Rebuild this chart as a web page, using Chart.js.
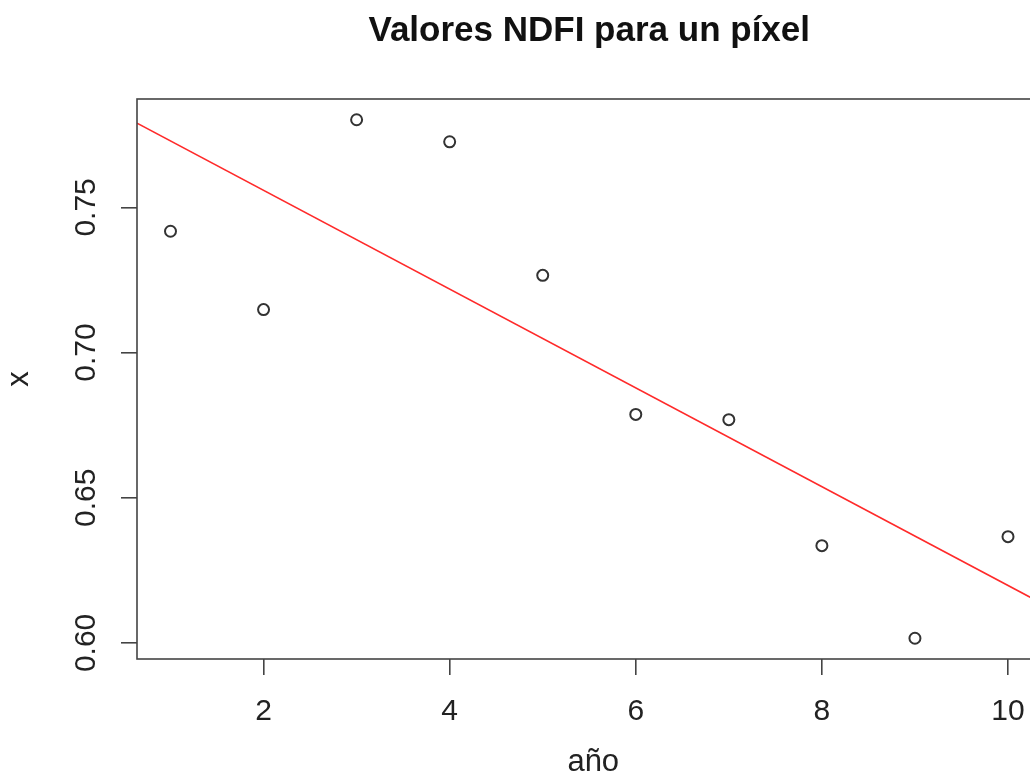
<!DOCTYPE html>
<html>
<head>
<meta charset="utf-8">
<script src="https://cdn.jsdelivr.net/npm/chart.js@4/dist/chart.umd.min.js"></script>
<style>
    html, body { margin: 0; padding: 0; background: #fff; overflow: hidden; }
    #wrap { width: 1049px; height: 775px; }
</style>
</head>
<body>
<div id="wrap"><canvas id="ndfiChart" width="1049" height="775"></canvas></div>
<script>
// valores
const years = [1, 2, 3, 4, 5, 6, 7, 8, 9, 10];
const ndfi = [0.7418, 0.7148, 0.7802, 0.7726, 0.7266, 0.6787, 0.6769, 0.6335, 0.6016, 0.6366];
const xTicks = [2, 4, 6, 8, 10];
const yTicks = [0.60, 0.65, 0.70, 0.75];
const titleText = 'Valores NDFI para un píxel';
const xLabel = 'año';
const yLabel = 'x';

// R extends the range by 4% on each side
function padRange(arr) {
    const lo = Math.min(...arr), hi = Math.max(...arr);
    const d = (hi - lo) * 0.04;
    return [lo - d, hi + d];
}
const [xMin, xMax] = padRange(years);
const [yMin, yMax] = padRange(ndfi);

// recta de regresion lm(ndfi ~ years)
function fitLine(xs, ys) {
    const mx = xs.reduce((a, b) => a + b, 0) / xs.length;
    const my = ys.reduce((a, b) => a + b, 0) / ys.length;
    let sxy = 0, sxx = 0;
    xs.forEach((x, i) => { sxy += (x - mx) * (ys[i] - my); sxx += (x - mx) * (x - mx); });
    const b = sxy / sxx;
    return { a: my - b * mx, b: b };
}
const fit = fitLine(years, ndfi);
const lineData = [xMin, xMax].map(x => ({ x: x, y: fit.a + fit.b * x }));

const FONT = '"Liberation Sans", Arial, sans-serif';
const INK = '#333';

const rDecorations = {
    id: 'rDecorations',
    afterDraw(chart) {
        const { ctx, chartArea, scales } = chart;
        ctx.save();
        // plot box
        ctx.strokeStyle = '#444';
        ctx.lineWidth = 1.6;
        ctx.strokeRect(chartArea.left, chartArea.top, chartArea.right - chartArea.left, chartArea.bottom - chartArea.top);

        const cx = (chartArea.left + chartArea.right) / 2;
        const cy = (chartArea.top + chartArea.bottom) / 2;

        // title
        ctx.fillStyle = '#111';
        ctx.textAlign = 'center';
        ctx.textBaseline = 'middle';
        ctx.font = 'bold 35px ' + FONT;
        ctx.fillText(titleText, cx, 31);

        // x axis label
        ctx.font = '31px ' + FONT;
        ctx.fillStyle = '#222';
        ctx.fillText(xLabel, cx + 4, 762);

        // y tick labels, rotated like R
        ctx.font = '30px ' + FONT;
        yTicks.forEach(v => {
            const py = scales.y.getPixelForValue(v);
            ctx.save();
            ctx.translate(87, py);
            ctx.rotate(-Math.PI / 2);
            ctx.fillText(v.toFixed(2), 0, 0);
            ctx.restore();
        });

        // y axis label
        ctx.font = '31px ' + FONT;
        ctx.save();
        ctx.translate(19, cy);
        ctx.rotate(-Math.PI / 2);
        ctx.fillText(yLabel, 0, 0);
        ctx.restore();
        ctx.restore();
    }
};

new Chart(document.getElementById('ndfiChart'), {
    type: 'scatter',
    data: {
        datasets: [
            {
                label: 'NDFI',
                data: years.map((x, i) => ({ x: x, y: ndfi[i] })),
                pointStyle: 'circle',
                pointRadius: 5.5,
                pointBorderWidth: 2,
                pointBorderColor: INK,
                pointBackgroundColor: 'rgba(255,255,255,0)',
                showLine: false
            },
            {
                label: 'lm',
                type: 'line',
                data: lineData,
                borderColor: '#ff2a2a',
                borderWidth: 1.7,
                pointRadius: 0,
                fill: false,
                clip: 0
            }
        ]
    },
    options: {
        responsive: false,
        animation: false,
        layout: { padding: { top: 99, right: 4, left: 0, bottom: 0 } },
        plugins: {
            legend: { display: false },
            tooltip: { enabled: false }
        },
        scales: {
            x: {
                type: 'linear',
                min: xMin,
                max: xMax,
                afterBuildTicks: scale => { scale.ticks = xTicks.map(v => ({ value: v })); },
                afterFit: scale => { scale.height = 116; },
                border: { display: false },
                grid: { drawOnChartArea: false, drawTicks: true, tickLength: 16, color: '#444', lineWidth: 1.6 },
                ticks: {
                    color: '#222',
                    font: { family: FONT, size: 30 },
                    padding: 19,
                    maxRotation: 0,
                    callback: v => String(v)
                }
            },
            y: {
                type: 'linear',
                min: yMin,
                max: yMax,
                afterBuildTicks: scale => { scale.ticks = yTicks.map(v => ({ value: v })); },
                afterFit: scale => { scale.width = 137; },
                border: { display: false },
                grid: { drawOnChartArea: false, drawTicks: true, tickLength: 16, color: '#444', lineWidth: 1.6 },
                ticks: { display: false }
            }
        }
    },
    plugins: [rDecorations]
});
</script>
</body>
</html>
